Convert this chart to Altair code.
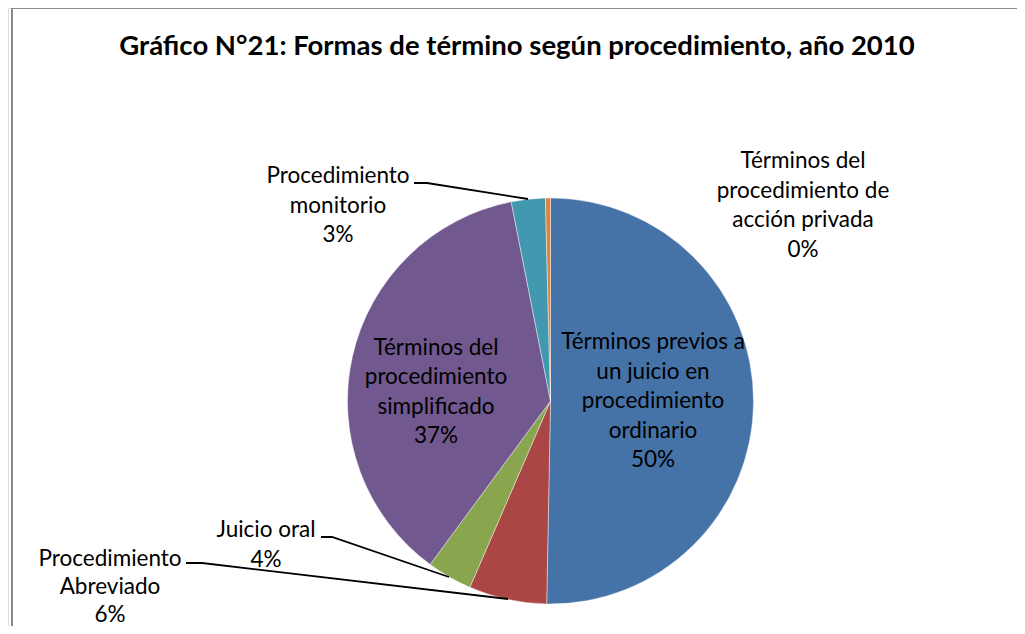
import altair as alt
import pandas as pd

# ---- data ----
categories = [
    "Términos previos a un juicio en procedimiento ordinario",
    "Procedimiento Abreviado",
    "Juicio oral",
    "Términos del procedimiento simplificado",
    "Procedimiento monitorio",
    "Términos del procedimiento de acción privada",
]
values = [50.3, 6.2, 3.6, 36.8, 2.7, 0.4]
label_lines = [
    ["Términos previos a", "un juicio en", "procedimiento", "ordinario"],
    ["Procedimiento", "Abreviado"],
    ["Juicio oral"],
    ["Términos del", "procedimiento", "simplificado"],
    ["Procedimiento", "monitorio"],
    ["Términos del", "procedimiento de", "acción privada"],
]
title_text = "Gráfico N°21: Formas de término según procedimiento, año 2010"

# ---- style / layout ----
colors = ["#4572A7", "#AA4643", "#89A54E", "#71588F", "#4198AF", "#DB843D"]
FONT = "Lato"
W, H = 1009, 618
CX, CY, R = 542.5, 393, 203
# position of the first line of each label, and line spacing
label_x = [645, 102, 258, 428, 330, 795]
label_y = [334, 551, 522, 339.5, 168, 153]
label_lh = [29.5, 28, 29.5, 29.5, 29.5, 29.5]
leaders = {
    "Procedimiento monitorio": [(406, 175), (419, 175), (520, 191)],
    "Juicio oral": [(313, 529), (324, 529), (441, 569)],
    "Procedimiento Abreviado": [(178, 555), (194, 555), (500, 591)],
}

pct = [f"{round(v)}%" for v in values]
df = pd.DataFrame({
    "cat": categories,
    "value": values,
    "order": list(range(len(categories))),
})
rows_t = []
for lines_, p, x, y, lh in zip(label_lines, pct, label_x, label_y, label_lh):
    for k, t in enumerate(lines_ + [p]):
        rows_t.append({"text": t, "lx": x, "ly": y + k * lh})
lab = pd.DataFrame(rows_t)

rows = []
for name, pts in leaders.items():
    for i, (x, y) in enumerate(pts):
        rows.append({"id": name, "i": i, "x": x, "y": y})
lead = pd.DataFrame(rows)

pie = alt.Chart(df).mark_arc(outerRadius=R, stroke="#ffffff", strokeWidth=0.6, strokeOpacity=0.7).encode(
    theta=alt.Theta("value:Q", stack=True),
    order=alt.Order("order:Q"),
    color=alt.Color("cat:N", scale=alt.Scale(domain=categories, range=colors), legend=None),
    x=alt.value(CX),
    y=alt.value(CY),
)

labels = alt.Chart(lab).mark_text(
    font=FONT, fontSize=22.5, align="center", baseline="middle", color="#000000",
).encode(
    x=alt.X("lx:Q", scale=None, axis=None),
    y=alt.Y("ly:Q", scale=None, axis=None),
    text="text:N",
)

lines = alt.Chart(lead).mark_line(color="#000000", strokeWidth=1.8).encode(
    x=alt.X("x:Q", scale=None, axis=None),
    y=alt.Y("y:Q", scale=None, axis=None),
    detail="id:N",
    order="i:Q",
)

title = alt.Chart(pd.DataFrame({"t": [title_text]})).mark_text(
    font=FONT, fontSize=27.5, fontWeight="bold", align="center", baseline="middle", color="#000000",
).encode(x=alt.value(509), y=alt.value(39), text="t:N")

border_top = alt.Chart(pd.DataFrame({"a": [0]})).mark_rule(color="#8a8a8a", strokeWidth=2).encode(
    x=alt.value(3), x2=alt.value(W), y=alt.value(0)
)
border_left = alt.Chart(pd.DataFrame({"a": [0]})).mark_rule(color="#8a8a8a", strokeWidth=2).encode(
    x=alt.value(4), y=alt.value(0), y2=alt.value(H)
)

chart = alt.layer(border_top, border_left, pie, lines, labels, title).properties(
    width=W, height=H, autosize=alt.AutoSizeParams(type="none"), padding=0,
).configure_view(stroke=None).configure(background="#ffffff")

chart.save("out.html", embed_options={"renderer": "svg", "actions": False})
